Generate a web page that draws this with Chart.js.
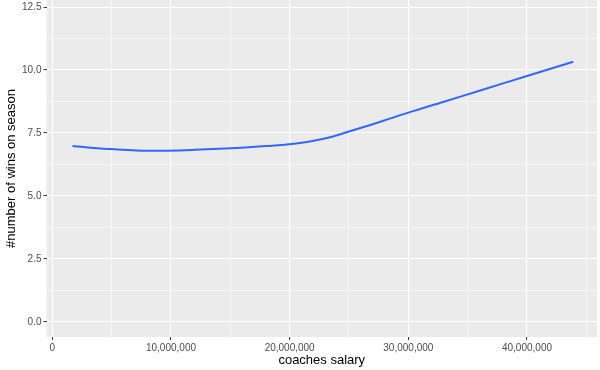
<!DOCTYPE html>
<html>
<head>
<meta charset="utf-8">
<script src="https://cdn.jsdelivr.net/npm/chart.js@4"></script>
<style>
  html, body { margin: 0; padding: 0; background: #fff; }
  #wrap { width: 600px; height: 370px; position: relative; overflow: hidden; }
  /* canvas is a bit taller and shifted up so the panel reaches the top edge */
  #chart { position: absolute; left: 0; top: -8px; }
</style>
</head>
<body>
<div id="wrap"><canvas id="chart" width="600" height="378"></canvas></div>
<script>
  // coaches salary (dollars) along the smooth curve
  var salary = [1700000, 5000000, 8200000, 12000000, 15000000, 18000000, 20000000, 21700000,
    23400000, 25000000, 26800000, 28500000, 30000000, 33000000, 36000000, 40000000, 43900000];
  // fitted number of wins
  var wins = [6.98, 6.86, 6.79, 6.83, 6.89, 6.98, 7.05, 7.16,
    7.33, 7.56, 7.82, 8.08, 8.31, 8.74, 9.18, 9.76, 10.33];

  var xTicks = [0, 10000000, 20000000, 30000000, 40000000];
  var yTicks = [0, 2.5, 5, 7.5, 10, 12.5];

  var fmt = function(v) {
    return Math.round(v).toString().replace(/\B(?=(\d{3})+(?!\d))/g, ',');
  };
  var isMajorX = function(v) { return xTicks.indexOf(v) !== -1; };
  var isMajorY = function(v) { return yTicks.indexOf(Math.round(v * 100) / 100) !== -1; };

  // grey ggplot panel
  var panelBg = {
    id: 'panelBg',
    beforeDraw: function(chart) {
      var a = chart.chartArea;
      var ctx = chart.ctx;
      ctx.save();
      ctx.fillStyle = '#ebebeb';
      ctx.fillRect(a.left, a.top, a.right - a.left, a.bottom - a.top);
      ctx.restore();
    }
  };

  var tickFont = { family: 'Liberation Sans, Arial, sans-serif', size: 10 };
  var titleFont = { family: 'Liberation Sans, Arial, sans-serif', size: 13 };

  new Chart(document.getElementById('chart').getContext('2d'), {
    type: 'line',
    data: {
      datasets: [{
        data: salary.map(function(s, i) { return { x: s, y: wins[i] }; }),
        borderColor: '#3366ff',
        borderWidth: 2,
        pointRadius: 0,
        cubicInterpolationMode: 'monotone',
        fill: false
      }]
    },
    plugins: [panelBg],
    options: {
      responsive: false,
      animation: false,
      layout: { padding: { top: 0, right: 3, left: 0, bottom: 0 } },
      plugins: { legend: { display: false }, tooltip: { enabled: false } },
      scales: {
        x: {
          type: 'linear',
          min: -490000,
          max: 45900000,
          afterBuildTicks: function(scale) {
            var t = [];
            for (var v = 0; v <= 45000000; v += 5000000) t.push({ value: v });
            scale.ticks = t;
          },
          afterFit: function(scale) { scale.height = 33; },
          border: { display: false },
          grid: {
            color: '#ffffff',
            lineWidth: function(c) { return isMajorX(c.tick.value) ? 1.1 : 0.55; },
            tickLength: 3,
            tickColor: function(c) { return isMajorX(c.tick.value) ? '#333333' : 'rgba(0,0,0,0)'; },
            tickWidth: 1
          },
          ticks: {
            autoSkip: false,
            maxRotation: 0,
            padding: 2,
            color: '#4d4d4d',
            font: tickFont,
            callback: function(v) { return isMajorX(v) ? fmt(v) : ''; }
          },
          title: {
            display: true,
            text: 'coaches salary',
            color: '#000000',
            font: titleFont,
            padding: { top: 0, bottom: 2 }
          }
        },
        y: {
          min: -0.6,
          max: 12.78,
          afterBuildTicks: function(scale) {
            var t = [];
            for (var v = 0; v <= 12.5; v += 1.25) t.push({ value: v });
            scale.ticks = t;
          },
          afterFit: function(scale) { scale.width = 46.5; },
          border: { display: false },
          grid: {
            color: '#ffffff',
            lineWidth: function(c) { return isMajorY(c.tick.value) ? 1.1 : 0.55; },
            tickLength: 3,
            tickColor: function(c) { return isMajorY(c.tick.value) ? '#333333' : 'rgba(0,0,0,0)'; },
            tickWidth: 1
          },
          ticks: {
            autoSkip: false,
            padding: 2,
            color: '#4d4d4d',
            font: tickFont,
            callback: function(v) { return isMajorY(v) ? v.toFixed(1) : ''; }
          },
          title: {
            display: true,
            text: '#number of wins on season',
            color: '#000000',
            font: titleFont,
            padding: { top: 4, bottom: 0 }
          }
        }
      }
    }
  });
</script>
</body>
</html>
